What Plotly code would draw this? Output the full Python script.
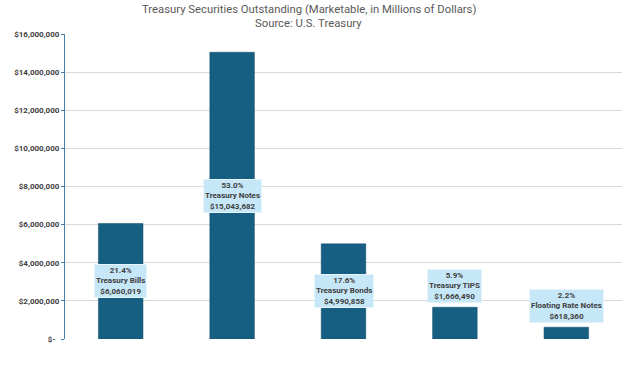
import plotly.graph_objects as go

categories = ["Treasury Bills", "Treasury Notes", "Treasury Bonds", "Treasury TIPS", "Floating Rate Notes"]
values = [6060019, 15043682, 4990858, 1666490, 618360]
shares = ["21.4%", "53.0%", "17.6%", "5.9%", "2.2%"]
tick_vals = [0, 2000000, 4000000, 6000000, 8000000, 10000000, 12000000, 14000000, 16000000]
tick_text = ["$-\u00a0\u00a0", "$2,000,000", "$4,000,000", "$6,000,000", "$8,000,000",
             "$10,000,000", "$12,000,000", "$14,000,000", "$16,000,000"]
title_lines = ["Treasury Securities Outstanding (Marketable, in Millions of Dollars)",
               "Source: U.S. Treasury"]

FONT = "Roboto, sans-serif"

fig = go.Figure()
fig.add_trace(go.Bar(
    x=categories, y=values, width=0.4,
    marker=dict(color="#175f82", line=dict(color="#0f4a68", width=0.5)),
    hoverinfo="skip",
))

inside_limit = 4000000
for c, v, s in zip(categories, values, shares):
    txt = f"<b>{s}<br>{c}<br>${v:,}</b>"
    if v > inside_limit:
        ann = dict(x=c, y=v / 2, yanchor="middle")
    else:
        ann = dict(x=c, y=v, yanchor="bottom", yshift=4)
    fig.add_annotation(
        **ann, text=txt, showarrow=False, xanchor="center",
        font=dict(family=FONT, size=8, color="#404040"),
        bgcolor="#c6e7f7", bordercolor="#e6f4fb", borderwidth=1, borderpad=1,
        align="center",
    )

for line, shift in zip(title_lines, [25, 11]):
    fig.add_annotation(
        text=line, xref="paper", yref="paper", x=0.438, y=1, xanchor="center",
        yanchor="middle", yshift=shift, showarrow=False,
        font=dict(family=FONT, size=11.3, color="#595959"),
    )

fig.update_layout(
    width=624, height=367,
    margin=dict(l=65, r=2, t=34, b=28),
    paper_bgcolor="white", plot_bgcolor="white",
    showlegend=False,
    bargap=0.6,
)
fig.update_xaxes(showticklabels=False, showgrid=False, showline=False, ticks="")
fig.update_yaxes(
    range=[0, 16000000], tickvals=tick_vals, ticktext=tick_text,
    showgrid=True, gridcolor="#d9d9d9", gridwidth=1,
    showline=True, linecolor="#4a7fa8", linewidth=1,
    ticks="outside", ticklen=3, tickcolor="#4a7fa8",
    tickfont=dict(family=FONT, size=8, color="#404040", weight="bold"),
    zeroline=False,
)
fig.write_html("out.html", config={"displayModeBar": False},
               post_script="document.body.style.margin='0';")
